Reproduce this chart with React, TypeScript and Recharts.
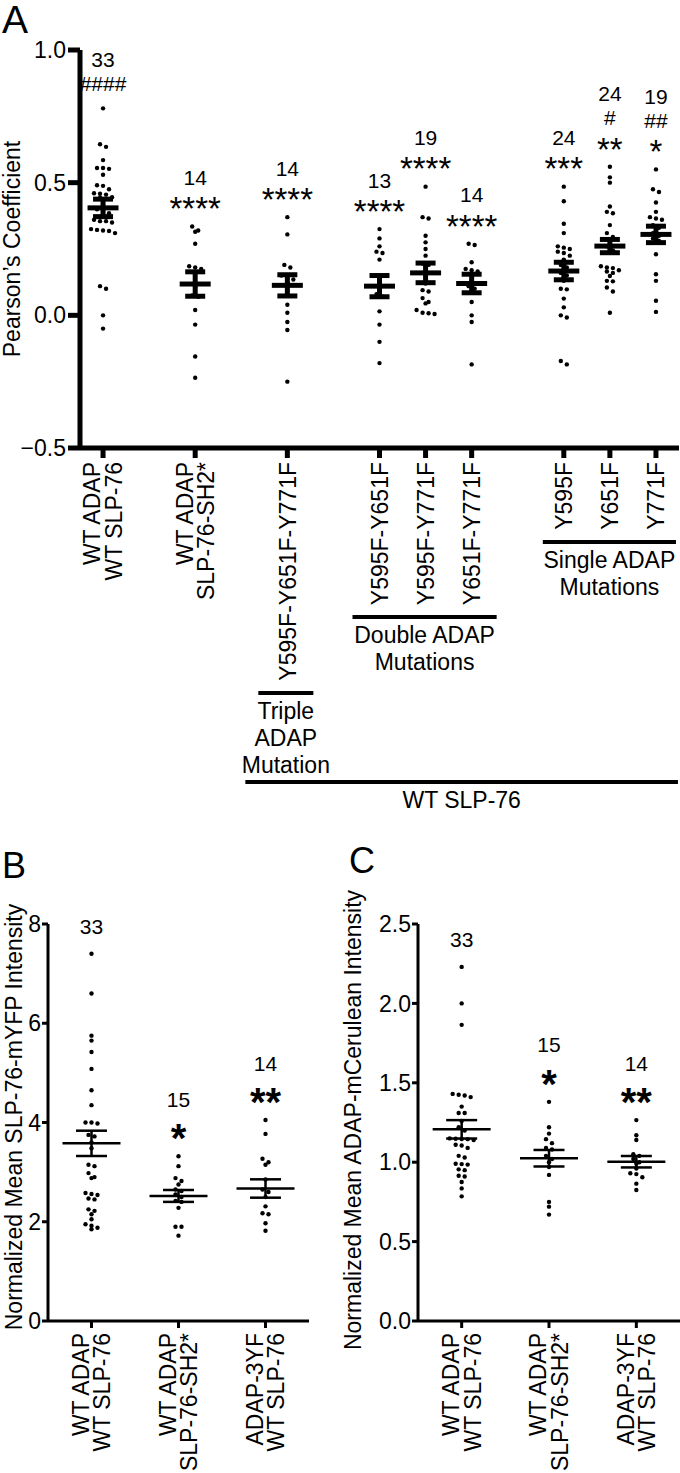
import React from "react";
import { ScatterChart, Scatter, XAxis, YAxis, ErrorBar } from "recharts";

const FONT = '"Liberation Sans", Arial, Helvetica, sans-serif';

// ---------- Panel A: Pearson's coefficient ----------
const aSlots = [0, 2, 4, 6, 7, 8, 10, 11, 12];
const aLabels = [
  ["WT ADAP", "WT SLP-76"],
  ["WT ADAP", "SLP-76-SH2*"],
  ["Y595F-Y651F-Y771F"],
  ["Y595F-Y651F"],
  ["Y595F-Y771F"],
  ["Y651F-Y771F"],
  ["Y595F"],
  ["Y651F"],
  ["Y771F"],
];
const aN = ["33", "14", "14", "13", "19", "14", "24", "24", "19"];
const aHash = ["####", "", "", "", "", "", "", "#", "##"];
const aStars = ["", "****", "****", "****", "****", "****", "***", "**", "*"];
const aMean = [0.405, 0.118, 0.113, 0.11, 0.16, 0.12, 0.167, 0.261, 0.305];
const aSem = [0.033, 0.046, 0.04, 0.04, 0.037, 0.035, 0.033, 0.025, 0.031];

const aWtWt = [0.78, 0.645, 0.635, 0.585, 0.555, 0.555, 0.552, 0.53, 0.49, 0.488, 0.475, 0.46, 0.458, 0.455, 0.445, 0.443, 0.44, 0.4, 0.39, 0.385, 0.36, 0.355, 0.355, 0.35, 0.325, 0.322, 0.32, 0.318, 0.31, 0.11, 0.1, 0.0, -0.05];
const aWtSh2 = [0.335, 0.32, 0.315, 0.27, 0.185, 0.18, 0.175, 0.105, 0.075, 0.07, 0.02, -0.035, -0.155, -0.235];
const aTriple = [0.37, 0.305, 0.19, 0.18, 0.15, 0.14, 0.135, 0.125, 0.095, 0.04, 0.01, -0.025, -0.055, -0.25];
const aY595Y651 = [0.325, 0.29, 0.26, 0.24, 0.235, 0.21, 0.12, 0.08, 0.07, 0.015, -0.035, -0.1, -0.18];
const aY595Y771 = [0.485, 0.37, 0.365, 0.3, 0.275, 0.25, 0.225, 0.195, 0.19, 0.12, 0.095, 0.09, 0.065, 0.05, 0.045, 0.02, 0.01, 0.008, 0.005];
const aY651Y771 = [0.27, 0.265, 0.2, 0.175, 0.17, 0.165, 0.13, 0.11, 0.1, 0.085, 0.05, 0.0, -0.025, -0.185];
const aY595 = [0.485, 0.43, 0.345, 0.31, 0.26, 0.255, 0.25, 0.24, 0.235, 0.225, 0.21, 0.19, 0.18, 0.16, 0.15, 0.13, 0.1, 0.098, 0.063, 0.03, 0.0, -0.008, -0.172, -0.185];
const aY651 = [0.56, 0.52, 0.5, 0.41, 0.39, 0.385, 0.34, 0.31, 0.295, 0.28, 0.26, 0.245, 0.185, 0.18, 0.178, 0.17, 0.165, 0.16, 0.148, 0.13, 0.128, 0.105, 0.09, 0.01];
const aY771 = [0.55, 0.475, 0.465, 0.425, 0.39, 0.37, 0.365, 0.36, 0.34, 0.33, 0.31, 0.3, 0.29, 0.28, 0.23, 0.155, 0.13, 0.055, 0.013];
const aGroups = [aWtWt, aWtSh2, aTriple, aY595Y651, aY595Y771, aY651Y771, aY595, aY651, aY771];

// ---------- Panels B and C ----------
const bcSlots = [0, 1, 2];
const bcLabels = [
  ["WT ADAP", "WT SLP-76"],
  ["WT ADAP", "SLP-76-SH2*"],
  ["ADAP-3YF", "WT SLP-76"],
];
const bcN = ["33", "15", "14"];
const bcStars = ["", "*", "**"];

const bWt = [7.4, 6.6, 5.75, 5.65, 5.42, 5.08, 4.65, 4.35, 4.0, 4.0, 3.98, 3.75, 3.72, 3.6, 3.48, 3.15, 3.12, 2.98, 2.9, 2.88, 2.58, 2.56, 2.54, 2.47, 2.45, 2.25, 2.22, 2.15, 2.05, 1.95, 1.92, 1.88, 1.85];
const bSh2 = [3.32, 3.12, 2.88, 2.82, 2.75, 2.65, 2.62, 2.55, 2.5, 2.42, 2.4, 2.28, 1.9, 1.9, 1.72];
const b3yf = [4.05, 3.77, 3.27, 3.2, 3.15, 2.85, 2.65, 2.6, 2.5, 2.31, 2.17, 2.15, 1.97, 1.82];
const bMean = [3.58, 2.52, 2.67];
const bSem = [0.255, 0.12, 0.185];

const cWt = [2.23, 2.0, 1.865, 1.43, 1.425, 1.42, 1.41, 1.35, 1.31, 1.31, 1.26, 1.22, 1.2, 1.15, 1.148, 1.146, 1.145, 1.14, 1.11, 1.105, 1.09, 1.04, 1.03, 0.99, 0.988, 0.985, 0.955, 0.95, 0.915, 0.91, 0.875, 0.835, 0.785];
const cSh2 = [1.38, 1.22, 1.18, 1.145, 1.12, 1.09, 1.08, 1.04, 1.02, 1.0, 0.97, 0.92, 0.75, 0.72, 0.67];
const c3yf = [1.265, 1.17, 1.14, 1.05, 1.04, 1.02, 1.0, 0.99, 0.96, 0.93, 0.925, 0.905, 0.865, 0.825];
const cMean = [1.207, 1.025, 1.003];
const cSem = [0.058, 0.052, 0.036];

// plot boxes in page pixels
const geomA = { left: 80, top: 50, width: 599, height: 398, xMin: -0.5, xMax: 12.5, yMin: -0.5, yMax: 1 };
const geomB = { left: 48, top: 924, width: 261, height: 397, xMin: -0.5, xMax: 2.5, yMin: 0, yMax: 8 };
const geomC = { left: 418, top: 924, width: 262, height: 397, xMin: -0.5, xMax: 2.5, yMin: 0, yMax: 2.5 };

const lookA = { axisW: 5, yTick: 12, yTickMargin: 2, xTick: 10, xTickMargin: 4, meanHalf: 15.5, capHalf: 10, barW: 5, dotR: 2.2, dotGap: 6, starSize: 33, starBold: false, firstGap: 25, lineGap: 24 };
const lookBC = { axisW: 3, yTick: 6, yTickMargin: 1, xTick: 7, xTickMargin: 5, meanHalf: 29, capHalf: 15.5, barW: 2.5, dotR: 2.2, dotGap: 6, starSize: 40, starBold: true, firstGap: 27, lineGap: 30 };

// simple beeswarm: values that fall within a few pixels share a centred row
function swarm(values: number[], slot: number, pxY: number, pxX: number, gap: number) {
  const sorted = [...values].sort((a, b) => b - a);
  const rows: number[][] = [];
  for (const v of sorted) {
    const row = rows[rows.length - 1];
    if (row && (row[0] - v) * pxY < 4.5) row.push(v);
    else rows.push([v]);
  }
  const out: { x: number; y: number }[] = [];
  rows.forEach((row) =>
    row.forEach((v, k) => out.push({ x: slot + ((k - (row.length - 1) / 2) * gap) / pxX, y: v }))
  );
  return out;
}

function SlotTick(props: any) {
  const { x, y, payload, slots, labels } = props;
  const lines: string[] = labels[slots.indexOf(payload.value)] || [];
  const sp = 21.5;
  return (
    <g transform={`translate(${x},${y})`}>
      <text transform="rotate(-90)" textAnchor="end" fontSize={23} fontFamily={FONT} fill="#000">
        {lines.map((ln, i) => (
          <tspan key={i} x={0} y={8.2 + (i - (lines.length - 1) / 2) * sp}>
            {ln}
          </tspan>
        ))}
      </text>
    </g>
  );
}

function Panel(props: any) {
  const { pageX, pageY, chartW, chartH, g, slots, labels, groups, means, sems, notes, yTicks, yFmt, look } = props;
  const pxX = g.width / (g.xMax - g.xMin);
  const pxY = g.height / (g.yMax - g.yMin);
  const dots = groups.flatMap((vals: number[], i: number) => swarm(vals, slots[i], pxY, pxX, look.dotGap));
  const meanData = means.map((m: number, i: number) => ({ x: slots[i], y: m, sem: sems[i] }));
  const noteData = notes.map((lines: any[], i: number) => ({ x: slots[i], y: Math.max(...groups[i]), lines }));
  const top = g.top - pageY;
  const left = g.left - pageX;
  const axisStyle = { stroke: "#000", strokeWidth: look.axisW };

  const noteShape = (p: any) => {
    const items = p.payload.lines;
    return (
      <g>
        {items.map((it: any, i: number) => {
          const yc = p.cy - look.firstGap - i * look.lineGap;
          const star = it.kind === "star";
          const fs = star ? look.starSize : 21;
          return (
            <text
              key={i}
              x={p.cx}
              y={yc + (star ? fs * 0.57 : fs * 0.36)}
              textAnchor="middle"
              fontSize={fs}
              fontWeight={star && look.starBold ? "bold" : "normal"}
              fontFamily={FONT}
              fill="#000"
            >
              {it.t}
            </text>
          );
        })}
      </g>
    );
  };

  return (
    <div style={{ position: "absolute", left: pageX, top: pageY }}>
      <ScatterChart
        width={chartW}
        height={chartH}
        margin={{ top, left: 0, right: chartW - left - g.width, bottom: 0 }}
      >
        <XAxis
          type="number"
          dataKey="x"
          domain={[g.xMin, g.xMax]}
          ticks={slots}
          interval={0}
          height={chartH - top - g.height}
          axisLine={axisStyle}
          tickLine={axisStyle}
          tickSize={look.xTick}
          tickMargin={look.xTickMargin}
          tick={(tp: any) => <SlotTick {...tp} slots={slots} labels={labels} />}
        />
        <YAxis
          type="number"
          dataKey="y"
          domain={[g.yMin, g.yMax]}
          ticks={yTicks}
          interval={0}
          width={left}
          axisLine={axisStyle}
          tickLine={axisStyle}
          tickSize={look.yTick}
          tickMargin={look.yTickMargin}
          tickFormatter={yFmt}
          tick={{ fill: "#000", fontSize: 23, fontFamily: FONT }}
        />
        <Scatter
          data={dots}
          isAnimationActive={false}
          shape={(p: any) => <circle cx={p.cx} cy={p.cy} r={look.dotR} fill="#000" />}
        />
        <Scatter
          data={meanData}
          isAnimationActive={false}
          shape={(p: any) => (
            <line x1={p.cx - look.meanHalf} x2={p.cx + look.meanHalf} y1={p.cy} y2={p.cy} stroke="#000" strokeWidth={look.barW} />
          )}
        >
          <ErrorBar dataKey="sem" direction="y" width={look.capHalf} stroke="#000" strokeWidth={look.barW} isAnimationActive={false} />
        </Scatter>
        <Scatter data={noteData} isAnimationActive={false} shape={noteShape} />
      </ScatterChart>
    </div>
  );
}

function buildNotes(n: string[], stars: string[], hashes?: string[]) {
  return n.map((t, i) => {
    const lines: { t: string; kind: string }[] = [];
    if (stars[i]) lines.push({ t: stars[i], kind: "star" });
    if (hashes && hashes[i]) lines.push({ t: hashes[i], kind: "hash" });
    lines.push({ t, kind: "n" });
    return lines;
  });
}

const aBrackets = [
  { from: 10, to: 12, padL: 21, padR: 20, y: 542, lines: ["Single ADAP", "Mutations"] },
  { from: 6, to: 8, padL: 27, padR: 25, y: 617, lines: ["Double ADAP", "Mutations"] },
  { from: 4, to: 4, padL: 29, padR: 26, y: 693, lines: ["Triple", "ADAP", "Mutation"] },
  { from: 4, to: 12, padL: 42, padR: 22, y: 782, lines: ["WT SLP-76"] },
];

function Overlay() {
  const sx = (s: number) => geomA.left + ((s - geomA.xMin) / (geomA.xMax - geomA.xMin)) * geomA.width;
  const title = (x: number, y: number, t: string) => (
    <text transform={`translate(${x},${y}) rotate(-90)`} textAnchor="middle" fontSize={23} fill="#000">
      {t}
    </text>
  );
  return (
    <svg width={680} height={1473} style={{ position: "absolute", left: 0, top: 0, pointerEvents: "none" }} fontFamily={FONT}>
      <text x={2} y={33} fontSize={39} fill="#000">A</text>
      <text x={2} y={878} fontSize={36} fill="#000">B</text>
      <text x={349} y={873} fontSize={36} fill="#000">C</text>
      {title(20, 249, "Pearson\u2019s Coefficient")}
      {title(22, 1117, "Normalized Mean SLP-76-mYFP Intensity")}
      {title(361, 1120, "Normalized Mean ADAP-mCerulean Intensity")}
      {aBrackets.map((b, i) => {
        const x1 = sx(b.from) - b.padL;
        const x2 = sx(b.to) + b.padR;
        const xc = (x1 + x2) / 2;
        return (
          <g key={i}>
            <line x1={x1} x2={x2} y1={b.y} y2={b.y} stroke="#000" strokeWidth={4} />
            {b.lines.map((t, k) => (
              <text key={k} x={xc} y={b.y + 18 + k * 27 + 8} textAnchor="middle" fontSize={23} fill="#000">
                {t}
              </text>
            ))}
          </g>
        );
      })}
    </svg>
  );
}

const fmtA = (v: number) => (v < 0 ? "\u2212" + Math.abs(v).toFixed(1) : v.toFixed(1));

export default function App() {
  return (
    <div style={{ position: "absolute", left: 0, top: 0, width: 680, height: 1473, background: "#fff" }}>
      <Panel
        pageX={0}
        pageY={0}
        chartW={680}
        chartH={800}
        g={geomA}
        slots={aSlots}
        labels={aLabels}
        groups={aGroups}
        means={aMean}
        sems={aSem}
        notes={buildNotes(aN, aStars, aHash)}
        yTicks={[-0.5, 0, 0.5, 1]}
        yFmt={fmtA}
        look={lookA}
      />
      <Panel
        pageX={0}
        pageY={880}
        chartW={310}
        chartH={593}
        g={geomB}
        slots={bcSlots}
        labels={bcLabels}
        groups={[bWt, bSh2, b3yf]}
        means={bMean}
        sems={bSem}
        notes={buildNotes(bcN, bcStars)}
        yTicks={[0, 2, 4, 6, 8]}
        yFmt={(v: number) => String(v)}
        look={lookBC}
      />
      <Panel
        pageX={340}
        pageY={880}
        chartW={340}
        chartH={593}
        g={geomC}
        slots={bcSlots}
        labels={bcLabels}
        groups={[cWt, cSh2, c3yf]}
        means={cMean}
        sems={cSem}
        notes={buildNotes(bcN, bcStars)}
        yTicks={[0, 0.5, 1, 1.5, 2, 2.5]}
        yFmt={(v: number) => v.toFixed(1)}
        look={lookBC}
      />
      <Overlay />
    </div>
  );
}
